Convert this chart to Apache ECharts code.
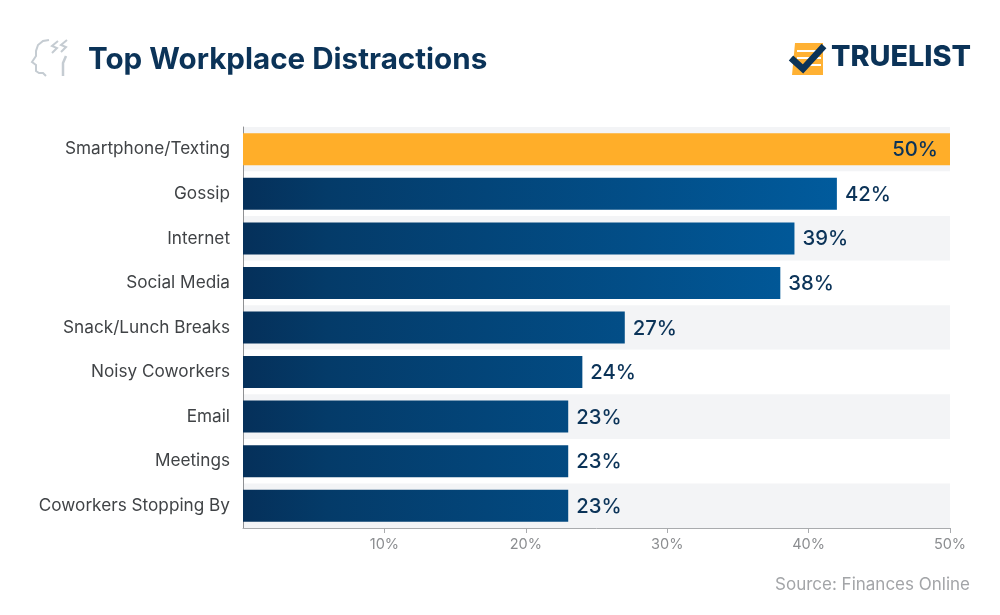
<!DOCTYPE html>
<html><head><meta charset="utf-8">
<style>html,body{margin:0;padding:0;background:#fff}#c{width:1000px;height:615px}</style>
<script src="https://cdn.jsdelivr.net/npm/echarts@6/dist/echarts.min.js"></script>
</head><body><div id="c"></div>
<script>
const categories = ["Smartphone/Texting","Gossip","Internet","Social Media","Snack/Lunch Breaks","Noisy Coworkers","Email","Meetings","Coworkers Stopping By"];
const values = [50,42,39,38,27,24,23,23,23];
const xTicks = [10,20,30,40,50];
const FONT = '"Inter","Noto Sans",sans-serif';
const NAVY = '#0b3358';
const ICON = '#c5ccd2';
const chart = echarts.init(document.getElementById('c'), null, {renderer:'canvas'});
const grad = new echarts.graphic.LinearGradient(243,0,949,0,[
  {offset:0,color:'#05305a'},{offset:0.12,color:'#043b69'},{offset:1,color:'#0062a8'}],true);
const line = (points,w,c)=>({type:'polyline',shape:{points},style:{fill:'none',stroke:c||ICON,lineWidth:w||2},silent:true});
chart.setOption({
  animation:false,
  backgroundColor:'#fff',
  grid:{left:243,right:50,top:127,bottom:87,containLabel:false},
  title:[
    {text:'Top Workplace Distractions',left:83,top:40,textStyle:{fontFamily:FONT,fontSize:29.6,fontWeight:700,color:'#0b3358'}},
    {text:'Source: Finances Online',right:25,top:571,textStyle:{fontFamily:FONT,fontSize:17,fontWeight:400,color:'#a3a5a8'}}
  ],
  xAxis:{type:'value',min:0,max:50,interval:10,
    axisLine:{show:true,lineStyle:{color:'#a9abae',width:1}},
    axisTick:{show:true,customValues:xTicks,length:5,lineStyle:{color:'#a9abae'}},
    axisLabel:{customValues:xTicks,formatter:v=>v+'%',color:'#8b8d90',fontFamily:FONT,fontSize:14.5,margin:9},
    splitLine:{show:false}},
  yAxis:{type:'category',inverse:true,data:categories,
    axisLine:{show:true,lineStyle:{color:'#8f9194',width:1}},
    axisTick:{show:false},
    axisLabel:{color:'#404346',fontFamily:FONT,fontSize:17.2,margin:13,padding:[4,0,0,0]},
    splitLine:{show:false},
    splitArea:{show:true,areaStyle:{color:['#f3f4f6','#ffffff']}}},
  series:[{type:'bar',data:values.map((v,i)=>({value:v,
      itemStyle:{color:i===0?'#ffae29':grad},
      label:i===0?{position:'insideRight',distance:12}:{position:'right',distance:8}})),
    barWidth:32,
    label:{show:true,formatter:p=>p.value+'%',fontFamily:FONT,fontSize:20.3,fontWeight:500,color:NAVY,offset:[0,1]}}],
  graphic:[
    line([[49,40],[43,41],[38,45],[36,51],[36,56],[32,62],[36,65],[36,71],[39,73],[43,73],[46,76]],2),
    line([[58,41],[52,46],[57,48],[52,53]],2),
    line([[67,40],[61,45],[66,47],[61,52]],2),
    line([[66,56],[63,63],[63,76]],2.5),
    {type:'polygon',shape:{points:[[795,43],[823,43],[823,75],[792,75]]},style:{fill:'#ffb133'},silent:true},
    {type:'rect',shape:{x:797,y:50,width:24,height:2},style:{fill:'#fff'},silent:true},
    {type:'rect',shape:{x:797,y:57,width:24,height:2},style:{fill:'#fff'},silent:true},
    {type:'rect',shape:{x:797,y:64,width:24,height:2},style:{fill:'#fff'},silent:true},
    line([[791,58],[803,69],[824,46]],6.5,NAVY),
    {type:'text',left:831,top:43,style:{text:'TRUELIST',fontFamily:FONT,fontSize:28.8,fontWeight:800,fill:NAVY},silent:true}
  ]
});
</script></body></html>
